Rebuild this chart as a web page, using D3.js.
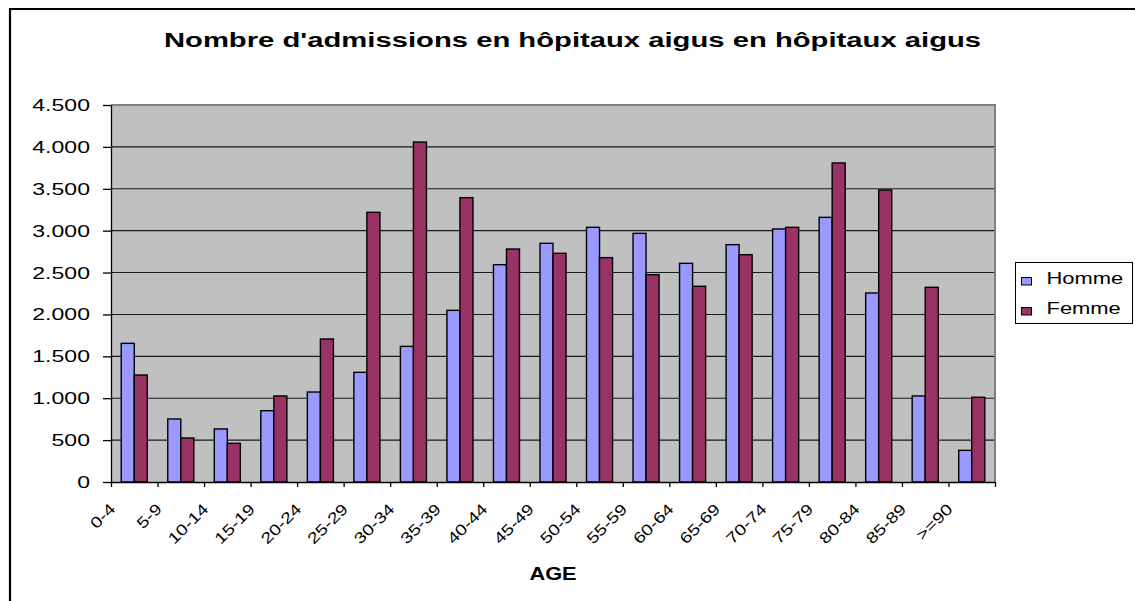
<!DOCTYPE html>
<html>
<head>
<meta charset="utf-8">
<script src="https://cdn.jsdelivr.net/npm/d3@7"></script>
<style>
  html, body { margin: 0; padding: 0; background: #fff; }
  svg { display: block; font-family: "Liberation Sans", Arial, sans-serif; }
</style>
</head>
<body>
<svg id="chart" width="1135" height="601"></svg>
<script>
const categories = ["0-4","5-9","10-14","15-19","20-24","25-29","30-34","35-39","40-44","45-49","50-54","55-59","60-64","65-69","70-74","75-79","80-84","85-89",">=90"];
const seriesNames = ["Homme","Femme"];
const homme = [1655, 752, 633, 851, 1074, 1309, 1619, 2049, 2594, 2849, 3040, 2968, 2610, 2833, 3020, 3159, 2256, 1027, 378];
const femme = [1277, 525, 462, 1027, 1707, 3219, 4058, 3394, 2781, 2730, 2678, 2475, 2336, 2713, 3040, 3808, 3485, 2324, 1011];
const yTicks = [0, 500, 1000, 1500, 2000, 2500, 3000, 3500, 4000, 4500];
const titleText = "Nombre d'admissions en hôpitaux aigus en hôpitaux aigus";
const xTitle = "AGE";

const colors = {Homme: "#9999FF", Femme: "#993366"};
const svg = d3.select("#chart");
const W = 1135, H = 601;
const plot = {left: 111, right: 995, top: 105, bottom: 482};

svg.append("rect").attr("width", W).attr("height", H).attr("fill", "#fff");
const defs = svg.append("defs");
// chart area border (extends beyond the picture on the right and bottom)
svg.append("path").attr("d", `M10,${H + 5}V9H${W + 5}`).attr("fill", "none")
  .attr("stroke", "#000").attr("stroke-width", 2.2);

const x = d3.scaleBand().domain(categories).range([plot.left, plot.right])
  .paddingInner(0.44).paddingOuter(0.22);
const xs = d3.scaleBand().domain(seriesNames).range([0, x.bandwidth()]);
const y = d3.scaleLinear().domain([0, 4500]).range([plot.bottom, plot.top]);
const fmt = d3.formatLocale({decimal: ",", thousands: ".", grouping: [3], currency: ["", ""]}).format(",d");

// plot background
svg.append("rect").attr("x", plot.left).attr("y", plot.top)
  .attr("width", plot.right - plot.left).attr("height", plot.bottom - plot.top)
  .attr("fill", "#C0C0C0");

// gridlines
svg.append("g").selectAll("line").data(yTicks.filter(d => d > 0 && d < 4500)).join("line")
  .attr("x1", plot.left).attr("x2", plot.right)
  .attr("y1", d => y(d)).attr("y2", d => y(d))
  .attr("stroke", "#1a1a1a").attr("stroke-width", 1.1);

// plot border top/right (gray)
svg.append("path").attr("d", `M${plot.left},${plot.top}H${plot.right}V${plot.bottom}`)
  .attr("fill", "none").attr("stroke", "#808080").attr("stroke-width", 2);

// bars
const data = categories.map((c, i) => ({cat: c, vals: [{s: "Homme", v: homme[i]}, {s: "Femme", v: femme[i]}]}));
const groups = svg.append("g").selectAll("g").data(data).join("g")
  .attr("transform", d => `translate(${x(d.cat)},0)`);
groups.selectAll("rect").data(d => d.vals).join("rect")
  .attr("x", d => xs(d.s)).attr("width", xs.bandwidth())
  .attr("y", d => y(d.v)).attr("height", d => y(0) - y(d.v))
  .attr("fill", d => colors[d.s]).attr("stroke", "#000").attr("stroke-width", 1.4);

// y axis
const yAxisG = svg.append("g").attr("transform", `translate(${plot.left},0)`)
  .call(d3.axisLeft(y).tickValues(yTicks).tickSize(8).tickSizeOuter(0).tickFormat(fmt));
yAxisG.attr("font-family", null).attr("font-size", null);
yAxisG.selectAll("path,line").attr("stroke", "#000").attr("stroke-width", 1.3);
yAxisG.selectAll("text").attr("x", null).attr("dy", "0.35em")
  .attr("transform", "translate(-21,0) scale(1.46,1)")
  .style("font-size", "15.8px").attr("fill", "#000");

// x axis boundary ticks
const xb = d3.scaleLinear().domain([0, categories.length]).range([plot.left, plot.right]);
const xTickG = svg.append("g").attr("transform", `translate(0,${plot.bottom})`)
  .call(d3.axisBottom(xb).tickValues(d3.range(categories.length + 1)).tickSize(5).tickSizeOuter(0).tickFormat(""));
xTickG.selectAll("path,line").attr("stroke", "#000").attr("stroke-width", 1.3);

// x axis labels: band axis; each label set along a 45° path (text on path)
const xLabG = svg.append("g").attr("transform", `translate(0,${plot.bottom})`)
  .call(d3.axisBottom(x).tickSize(0));
xLabG.attr("font-family", null).attr("font-size", null);
xLabG.select(".domain").remove();
const px = -18, py = 28, pathLen = 120, k = Math.SQRT1_2;
const labelStretch = 1.26;
xLabG.selectAll("g.tick").each(function(d, i) {
  const tick = d3.select(this);
  const txt = tick.select("text");
  const label = txt.text();
  txt.style("font-size", "15.4px").attr("y", null).attr("dy", null);
  const natural = txt.node().getComputedTextLength();
  txt.remove();
  const id = "xlab-path-" + i;
  defs.append("path").attr("id", id)
    .attr("d", `M${px - pathLen * k},${py + pathLen * k}L${px},${py}`);
  tick.append("text")
    .style("font-size", "15.4px")
    .attr("fill", "#000")
    .append("textPath")
    .attr("href", "#" + id)
    .attr("startOffset", "100%")
    .attr("text-anchor", "end")
    .attr("textLength", natural * labelStretch)
    .attr("lengthAdjust", "spacingAndGlyphs")
    .text(label);
});

// title
svg.append("text").attr("transform", "translate(572.5,47) scale(1.44,1)")
  .attr("text-anchor", "middle").style("font-size", "20.3px").style("font-weight", "bold")
  .text(titleText);

// x axis title
svg.append("text").attr("transform", "translate(553,580) scale(1.21,1)")
  .attr("text-anchor", "middle").style("font-size", "18px").style("font-weight", "bold")
  .text(xTitle);

// legend
const lg = svg.append("g");
lg.append("rect").attr("x", 1015.5).attr("y", 262.5).attr("width", 117).attr("height", 61)
  .attr("fill", "#fff").attr("stroke", "#000").attr("stroke-width", 1);
const items = lg.selectAll("g.item").data(seriesNames).join("g").attr("class", "item")
  .attr("transform", (d, i) => `translate(0,${i * 30})`);
items.append("rect").attr("x", 1021.5).attr("y", 277.5).attr("width", 10).attr("height", 7.5)
  .attr("fill", d => colors[d]).attr("stroke", "#000").attr("stroke-width", 1);
items.append("text").attr("transform", "translate(1046.5,284) scale(1.29,1)")
  .style("font-size", "17px").text(d => d);
</script>
</body>
</html>
